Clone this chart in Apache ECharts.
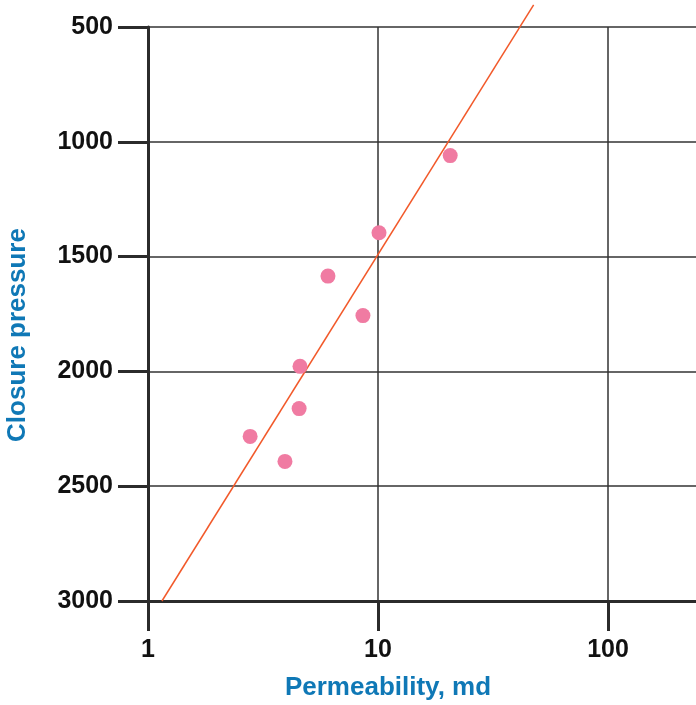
<!DOCTYPE html>
<html>
<head>
<meta charset="utf-8">
<script src="https://cdn.jsdelivr.net/npm/echarts@6/dist/echarts.min.js"></script>
<style>
html,body{margin:0;padding:0;background:#fff;}
#chart{width:696px;height:705px;}
</style>
</head>
<body>
<div id="chart"></div>
<script>
// permeability (md) vs closure pressure
var permeability = [20.6, 10.1, 6.06, 8.6, 4.58, 4.54, 2.78, 3.94];
var closurePressure = [1060, 1396, 1585, 1757, 1978, 2162, 2283, 2392];
// trend line end points
var trendX = [1.15, 47.5];
var trendY = [3000, 404];
var yTicks = [500, 1000, 1500, 2000, 2500, 3000];

var font = '"Liberation Sans", Arial, Helvetica, sans-serif';
var blue = '#0f78b6';

var points = [];
for (var i = 0; i < permeability.length; i++) {
	points.push([permeability[i], closurePressure[i]]);
}
var trend = [];
for (var j = 0; j < trendX.length; j++) {
	trend.push([trendX[j], trendY[j]]);
}

var option = {
	animation: false,
	backgroundColor: '#fff',
	// the plot runs on past the right edge (3 decades = 690px)
	grid: {left: 148, top: 27, right: -142, bottom: 104, outerBoundsMode: 'none'},
	xAxis: {
		type: 'log',
		logBase: 10,
		min: 1,
		max: 1000,
		axisLine: {lineStyle: {color: '#2b2b2b', width: 3}},
		axisTick: {show: true, length: 30, lineStyle: {color: '#2b2b2b', width: 3}},
		axisLabel: {margin: 37, color: '#111', fontSize: 25, fontWeight: 'bold', fontFamily: font},
		splitLine: {show: true, lineStyle: {color: '#333', width: 1.5}},
		minorTick: {show: false}
	},
	yAxis: {
		type: 'value',
		inverse: true,
		min: yTicks[0],
		max: yTicks[yTicks.length - 1],
		interval: 500,
		axisLine: {show: true, lineStyle: {color: '#2b2b2b', width: 3}},
		axisTick: {show: true, length: 30, lineStyle: {color: '#2b2b2b', width: 3}},
		axisLabel: {
			margin: 35, color: '#111', fontSize: 25, fontWeight: 'bold', fontFamily: font,
			formatter: function (v) { return String(v); }
		},
		splitLine: {show: true, lineStyle: {color: '#333', width: 1.5}}
	},
	graphic: [
		{
			type: 'text',
			x: 388,
			y: 688,
			style: {text: 'Permeability, md', fill: blue, font: 'bold 26px ' + font, align: 'center', verticalAlign: 'middle'}
		},
		{
			type: 'text',
			x: 18,
			y: 335,
			rotation: Math.PI / 2,
			style: {text: 'Closure pressure', fill: blue, font: 'bold 26px ' + font, align: 'center', verticalAlign: 'middle'}
		}
	],
	series: [
		{
			type: 'line',
			data: trend,
			clip: false,
			symbol: 'none',
			lineStyle: {color: '#f2592a', width: 1.5},
			z: 3
		},
		{
			type: 'scatter',
			data: points,
			symbolSize: 15,
			itemStyle: {color: '#f07ba2', opacity: 1},
			z: 4
		}
	]
};

var chart = echarts.init(document.getElementById('chart'));
chart.setOption(option);
</script>
</body>
</html>
